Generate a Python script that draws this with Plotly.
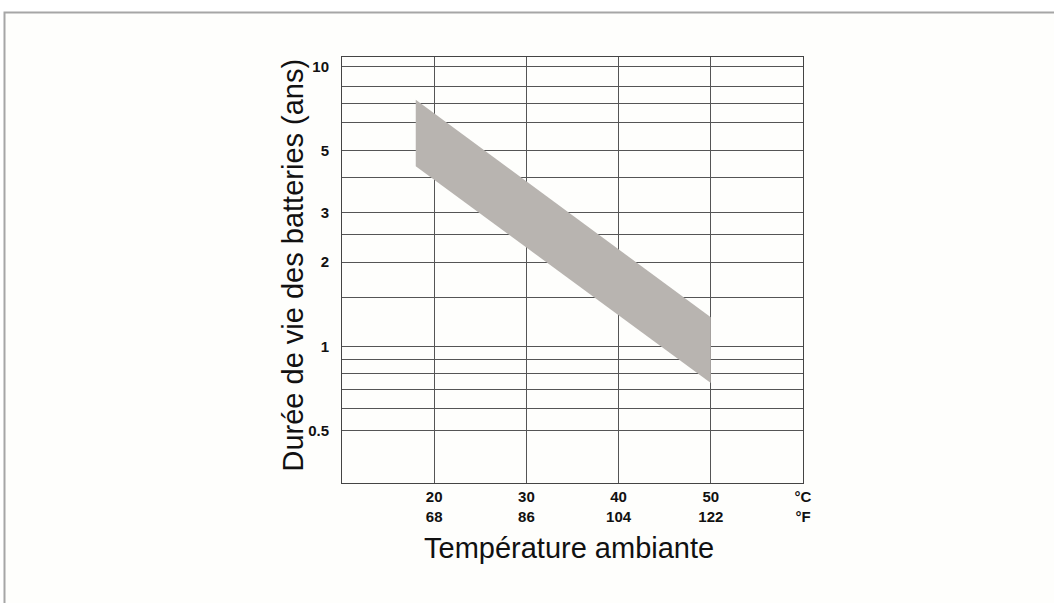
import plotly.graph_objects as go

# Band of battery life vs ambient temperature (corners)
band_temp_c = [18, 50, 50, 18, 18]
band_life_years = [7.6, 1.27, 0.74, 4.4, 7.6]

# Axis ticks
x_ticks_c = [20, 30, 40, 50, 60]
x_ticks_f = ["68", "86", "104", "122", "°F"]
x_ticks_c_text = ["20", "30", "40", "50", "°C"]

y_grid_vals = [0.5, 0.6, 0.7, 0.8, 0.9, 1, 1.5, 2, 2.5, 3, 4, 5, 6.3, 7.4, 8.5, 10]
y_labels = {0.5: "0.5", 1: "1", 2: "2", 3: "3", 5: "5", 10: "10"}

FONT = "Liberation Sans, Arial, Helvetica, sans-serif"

fig = go.Figure()
fig.add_trace(go.Scatter(
    x=band_temp_c, y=band_life_years,
    mode="lines", fill="toself",
    fillcolor="#b8b4b0", line=dict(width=0, color="#b8b4b0"),
    hoverinfo="skip", showlegend=False,
))

fig.update_layout(
    width=1054, height=603,
    margin=dict(l=342, r=251, t=57, b=120, pad=0),
    paper_bgcolor="white",
    plot_bgcolor="#fefefc",
    showlegend=False,
    xaxis=dict(
        range=[10, 60],
        tickmode="array",
        tickvals=x_ticks_c,
        ticktext=[f"<b>{c}</b><br><b>{f}</b>" for c, f in zip(x_ticks_c_text, x_ticks_f)],
        tickfont=dict(family=FONT, size=15, color="#111"),
        showgrid=True, gridcolor="#555", gridwidth=1,
        showline=True, mirror=True, linecolor="#444", linewidth=1,
        ticks="", zeroline=False,
    ),
    yaxis=dict(
        type="log",
        range=[-0.4886, 1.034],
        tickmode="array",
        tickvals=y_grid_vals,
        ticktext=[f"<b>{y_labels[v]}</b>" if v in y_labels else "" for v in y_grid_vals],
        tickfont=dict(family=FONT, size=15, color="#111"),
        showgrid=True, gridcolor="#555", gridwidth=1,
        showline=True, mirror=True, linecolor="#444", linewidth=1,
        ticks="", zeroline=False,
        ticklabelstandoff=9,
    ),
    shapes=[dict(
        type="rect", xref="paper", yref="paper",
        x0=(4.5 - 342) / 461, x1=(1070 - 342) / 461,
        y0=(483 - 620) / 426, y1=(483 - 12.5) / 426,
        line=dict(color="#a6a6a6", width=2),
        fillcolor="#fefefc", layer="below",
    )],
    annotations=[
        dict(text="Température ambiante", xref="paper", yref="paper",
             x=(569 - 342) / 461, y=(483 - 548) / 426,
             xanchor="center", yanchor="middle", showarrow=False,
             font=dict(family=FONT, size=29, color="#111")),
        dict(text="Durée de vie des batteries (ans)", xref="paper", yref="paper",
             x=(292.5 - 342) / 461, y=(483 - 265) / 426,
             xanchor="center", yanchor="middle", showarrow=False, textangle=-90,
             font=dict(family=FONT, size=29, color="#111")),
    ],
)

fig.write_html(
    "out.html",
    config={"displayModeBar": False, "staticPlot": True},
    post_script="document.body.style.margin='0';document.body.style.overflow='hidden';",
)
